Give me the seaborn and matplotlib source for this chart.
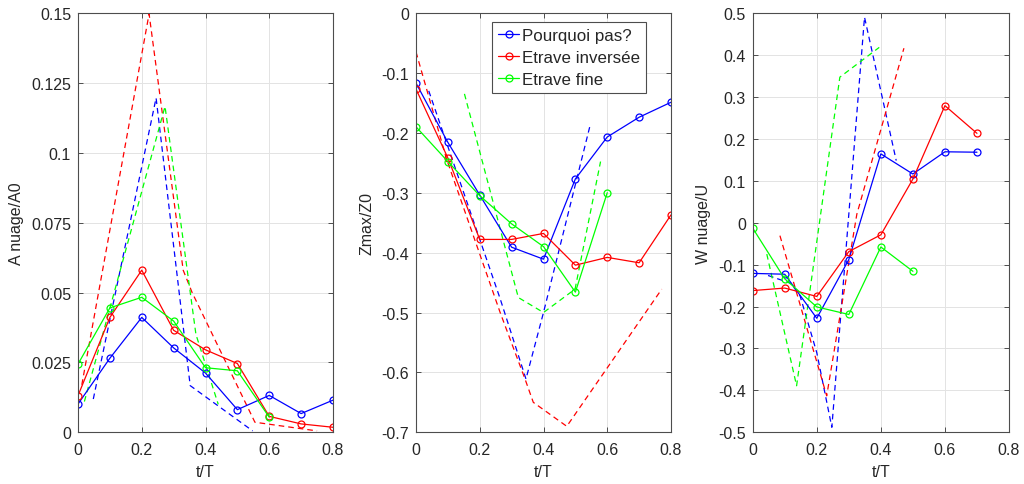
import matplotlib
matplotlib.use("Agg")
import matplotlib.pyplot as plt
import seaborn as sns
from matplotlib.lines import Line2D

# ---- measured series (t/T on the x axis) ----
t_full = [0.0, 0.1, 0.2, 0.3, 0.4, 0.5, 0.6, 0.7, 0.8]

# A nuage / A0
A_pp = [0.0101, 0.0265, 0.0411, 0.0302, 0.0212, 0.0081, 0.0132, 0.0067, 0.0115]
A_inv = [0.0131, 0.0411, 0.0580, 0.0365, 0.0295, 0.0246, 0.0057, 0.0030, 0.0018]
A_fine = [0.0244, 0.0445, 0.0483, 0.0398, 0.0231, 0.0220, 0.0054]

# Zmax / Z0
Z_pp = [-0.117, -0.216, -0.304, -0.391, -0.411, -0.277, -0.207, -0.174, -0.149]
Z_inv = [-0.127, -0.242, -0.378, -0.378, -0.368, -0.421, -0.408, -0.417, -0.337]
Z_fine = [-0.190, -0.248, -0.305, -0.352, -0.390, -0.466, -0.300]

# W nuage / U
W_pp = [-0.121, -0.123, -0.228, -0.088, 0.164, 0.116, 0.169, 0.168]
W_inv = [-0.162, -0.156, -0.176, -0.069, -0.029, 0.104, 0.279, 0.213]
W_fine = [-0.013, -0.134, -0.201, -0.219, -0.058, -0.116]

# ---- reference curves (dashed) ----
A_pp_ref_t = [0.048, 0.245, 0.352, 0.548]
A_pp_ref = [0.0119, 0.1196, 0.0167, 0.0005]
A_inv_ref_t = [0.012, 0.223, 0.330, 0.358, 0.555, 0.750]
A_inv_ref = [0.017, 0.1497, 0.058, 0.050, 0.0036, 0.0005]
A_fine_ref_t = [0.020, 0.273, 0.370, 0.440]
A_fine_ref = [0.011, 0.1166, 0.035, 0.010]

Z_pp_ref_t = [0.040, 0.264, 0.345, 0.400, 0.546]
Z_pp_ref = [-0.130, -0.477, -0.611, -0.500, -0.188]
Z_inv_ref_t = [0.000, 0.096, 0.264, 0.342, 0.368, 0.473, 0.771]
Z_inv_ref = [-0.065, -0.244, -0.500, -0.611, -0.650, -0.690, -0.461]
Z_fine_ref_t = [0.152, 0.321, 0.400, 0.499, 0.579]
Z_fine_ref = [-0.135, -0.475, -0.500, -0.461, -0.248]

W_pp_ref_t = [0.048, 0.120, 0.148, 0.200, 0.247, 0.349, 0.448]
W_pp_ref = [-0.126, -0.145, -0.175, -0.310, -0.488, 0.490, 0.148]
W_inv_ref_t = [0.085, 0.231, 0.325, 0.472]
W_inv_ref = [-0.031, -0.413, 0.020, 0.416]
W_fine_ref_t = [0.044, 0.137, 0.272, 0.395]
W_fine_ref = [-0.075, -0.389, 0.347, 0.418]

series_names = ["Pourquoi pas?", "Etrave inversée", "Etrave fine"]
colors = ["#0000ff", "#ff0000", "#00ff00"]

x_ticks = [0, 0.2, 0.4, 0.6, 0.8]
x_labels = ["0", "0.2", "0.4", "0.6", "0.8"]
A_ticks = [0, 0.025, 0.05, 0.075, 0.1, 0.125, 0.15]
A_labels = ["0", "0.025", "0.05", "0.075", "0.1", "0.125", "0.15"]
Z_ticks = [-0.7, -0.6, -0.5, -0.4, -0.3, -0.2, -0.1, 0]
Z_labels = ["-0.7", "-0.6", "-0.5", "-0.4", "-0.3", "-0.2", "-0.1", "0"]
W_ticks = [-0.5, -0.4, -0.3, -0.2, -0.1, 0, 0.1, 0.2, 0.3, 0.4, 0.5]
W_labels = ["-0.5", "-0.4", "-0.3", "-0.2", "-0.1", "0", "0.1", "0.2", "0.3", "0.4", "0.5"]

sns.set_theme(style="ticks")
plt.rcParams["font.family"] = ["Liberation Sans", "DejaVu Sans"]

AX_COLOR = "#4d4d4d"
TXT_COLOR = "#262626"
FS = 11.5
LEG_FS = 12.2

fig = plt.figure(figsize=(10.24, 4.85), dpi=100)
fig.patch.set_facecolor("white")

positions = [
    [78 / 1024, 1 - 433.3 / 485, 255 / 1024, 419.3 / 485],
    [416 / 1024, 1 - 433.3 / 485, 255 / 1024, 419.3 / 485],
    [752.7 / 1024, 1 - 433.3 / 485, 256.3 / 1024, 419.3 / 485],
]


def solid(ax, x, y, color):
    sns.lineplot(x=x, y=y, ax=ax, color=color, marker="o", markersize=5,
                 markerfacecolor="none", markeredgecolor=color, markeredgewidth=0.9,
                 linewidth=0.9, sort=False, estimator=None)


def dashed(ax, x, y, color):
    sns.lineplot(x=x, y=y, ax=ax, color=color, linestyle=(0, (4.5, 3.2)),
                 linewidth=0.9, sort=False, estimator=None)


def style_axis(ax, yticks, ylabels, ylim, ylabel):
    ax.set_xlim(0, 0.8)
    ax.set_ylim(*ylim)
    ax.set_xticks(x_ticks, x_labels)
    ax.set_yticks(yticks, ylabels)
    ax.set_xlabel("t/T", fontsize=FS, color=TXT_COLOR, labelpad=5)
    ax.set_ylabel(ylabel, fontsize=FS, color=TXT_COLOR, labelpad=5)
    ax.grid(True, color="#e3e3e3", linewidth=0.7)
    ax.set_axisbelow(True)
    for s in ax.spines.values():
        s.set_visible(True)
        s.set_color(AX_COLOR)
        s.set_linewidth(0.8)
    ax.tick_params(direction="in", length=3.5, width=0.7, color=AX_COLOR,
                   labelsize=FS, labelcolor=TXT_COLOR, top=True, right=True)
    ax.tick_params(axis="x", pad=7)
    ax.tick_params(axis="y", pad=5)
    ax.set_facecolor("white")


axes = [fig.add_axes(p) for p in positions]

# Panel 1: cloud area
ax = axes[0]
for (rx, ry), c in zip([(A_pp_ref_t, A_pp_ref), (A_inv_ref_t, A_inv_ref), (A_fine_ref_t, A_fine_ref)], colors):
    dashed(ax, rx, ry, c)
for y, c in zip([A_pp, A_inv, A_fine], colors):
    solid(ax, t_full[:len(y)], y, c)
style_axis(ax, A_ticks, A_labels, (0, 0.15), "A nuage/A0")

# Panel 2: maximum depth
ax = axes[1]
for (rx, ry), c in zip([(Z_pp_ref_t, Z_pp_ref), (Z_inv_ref_t, Z_inv_ref), (Z_fine_ref_t, Z_fine_ref)], colors):
    dashed(ax, rx, ry, c)
for y, c in zip([Z_pp, Z_inv, Z_fine], colors):
    solid(ax, t_full[:len(y)], y, c)
style_axis(ax, Z_ticks, Z_labels, (-0.7, 0), "Zmax/Z0")

handles = [Line2D([], [], color=c, marker="o", markersize=5, markerfacecolor="none",
                  markeredgecolor=c, markeredgewidth=0.9, linewidth=0.9) for c in colors]
leg = ax.legend(handles, series_names, loc="upper left", bbox_to_anchor=(0.298, 0.9785),
                fontsize=LEG_FS, frameon=True, fancybox=False, framealpha=1,
                edgecolor=AX_COLOR, borderpad=0.35, labelspacing=0.42,
                handlelength=1.25, handletextpad=0.15, borderaxespad=0)
leg.get_frame().set_linewidth(0.8)
for txt in leg.get_texts():
    txt.set_color(TXT_COLOR)

# Panel 3: vertical velocity
ax = axes[2]
for (rx, ry), c in zip([(W_pp_ref_t, W_pp_ref), (W_inv_ref_t, W_inv_ref), (W_fine_ref_t, W_fine_ref)], colors):
    dashed(ax, rx, ry, c)
for y, c in zip([W_pp, W_inv, W_fine], colors):
    solid(ax, t_full[:len(y)], y, c)
style_axis(ax, W_ticks, W_labels, (-0.5, 0.5), "W nuage/U")

fig.savefig("out.png", dpi=100, facecolor="white")
